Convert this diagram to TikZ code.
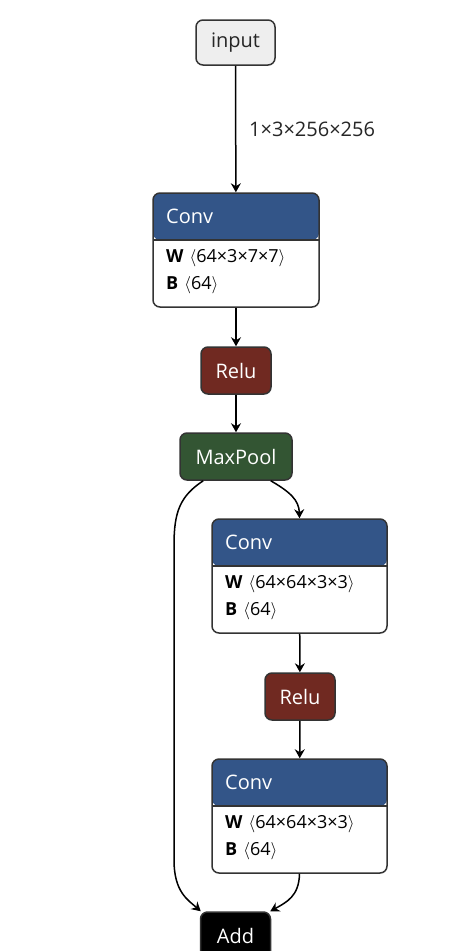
\documentclass[tikz,border=0pt]{standalone}
\usepackage{fontspec}
\setmainfont{Open Sans}
\usetikzlibrary{arrows.meta,positioning,calc}
\definecolor{nconv}{HTML}{335588}
\definecolor{nrelu}{HTML}{702921}
\definecolor{npool}{HTML}{335533}
\definecolor{nline}{HTML}{333333}
\definecolor{ninput}{HTML}{EEEEEE}
\tikzset{
  op/.style={draw=nline,line width=1.5pt,rounded corners=7pt,minimum height=47pt,inner sep=0pt,font=\fontsize{20}{22}\selectfont,text=white},
  inp/.style={op,fill=ninput,text=black!85,minimum width=79pt,minimum height=45pt},
  relu/.style={op,fill=nrelu,minimum width=70pt},
  pool/.style={op,fill=npool,minimum width=112pt},
  addn/.style={op,fill=black,minimum width=70pt},
  conv/.style={draw=nline,line width=1.5pt,rounded corners=7pt,fill=white,inner sep=0pt,minimum height=114pt,
    path picture={\fill[nconv] (path picture bounding box.north west) rectangle ([yshift=-47pt]path picture bounding box.north east);
      \draw[nline,line width=1.2pt] ([yshift=-47pt]path picture bounding box.north west) -- ([yshift=-47pt]path picture bounding box.north east);}},
  ttl/.style={anchor=base west,font=\fontsize{20}{22}\selectfont,text=white,inner sep=0pt},
  attr/.style={anchor=base west,font=\fontsize{18}{20}\selectfont,inner sep=0pt},
  arr/.style={-{Stealth[length=9pt,width=10pt,inset=3pt]},line width=1.5pt},
  lbl/.style={anchor=base west,font=\fontsize{20}{22}\selectfont,inner sep=0pt,text=black!85},
}
\newcommand{\shp}[1]{\hspace{6pt}$\big\langle$#1$\big\rangle$}
\begin{document}
\begin{tikzpicture}[x=1pt,y=-1pt]
  \useasboundingbox[fill=white] (0,0) rectangle (469,951);
  % input
  \node[inp] (in) at (235.5,42.5) {input};
  % first conv block
  \node[conv,minimum width=166pt] (c1) at (236,250) {};
  \node[ttl] (c1t) at (166,223) {Conv};
  \node[attr] (c1w) at (166,262) {\textbf{W}\shp{64×3×7×7}};
  \node[attr] (c1b) at (166,289) {\textbf{B}\shp{64}};
  \node[relu] (r1) at (236,370.5) {Relu};
  \node[pool] (mp) at (236,456.5) {MaxPool};
  \node[lbl] (sh) at (249,136.5) {1×3×256×256};
  \draw[arr] (in) -- (c1);
  \draw[arr] (c1) -- (r1);
  \draw[arr] (r1) -- (mp);
  % residual branch
  \node[conv,minimum width=175pt] (c2) at (299.5,576) {};
  \node[ttl] (c2t) at (225,549) {Conv};
  \node[attr] (c2w) at (225,588) {\textbf{W}\shp{64×64×3×3}};
  \node[attr] (c2b) at (225,615) {\textbf{B}\shp{64}};
  \node[relu] (r2) at (300,696.5) {Relu};
  \node[conv,minimum width=175pt] (c3) at (299.5,816) {};
  \node[ttl] (c3t) at (225,789) {Conv};
  \node[attr] (c3w) at (225,828) {\textbf{W}\shp{64×64×3×3}};
  \node[attr] (c3b) at (225,855) {\textbf{B}\shp{64}};
  \node[addn] (add) at (235.5,935.5) {Add};
  \draw[arr] ([xshift=-22pt]mp.south east) .. controls (290,492) and (299,500) .. (c2.north);
  \draw[arr] (c2) -- (r2);
  \draw[arr] (r2) -- (c3);
  % skip and merge
  \draw[arr] ([xshift=24pt]mp.south west) .. controls (180,496) and (174,512) .. (174,545) -- (174,860) .. controls (174,892) and (188,900) .. ([xshift=1pt]add.north west);
  \draw[arr] (c3.south) .. controls (299,896) and (287,902) .. ([xshift=-1pt]add.north east);
\end{tikzpicture}
\end{document}
